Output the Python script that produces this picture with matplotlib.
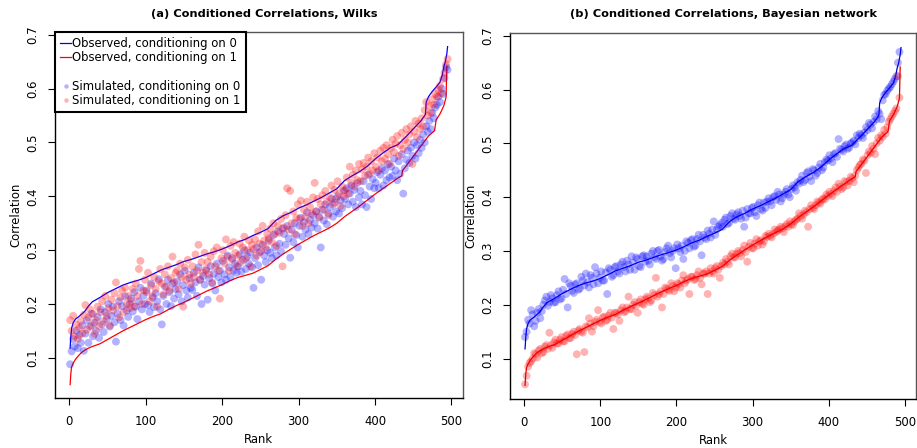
import numpy as np
import matplotlib
matplotlib.use("Agg")
import matplotlib.pyplot as plt
from matplotlib.lines import Line2D

plt.rcParams['font.family'] = ['DejaVu Sans']

# ---------------- data ----------------
# Observed sorted correlations (shared by both panels)
obs0_rank = [1, 2, 3, 5, 8, 12, 16, 20, 25, 30, 35, 40, 50, 60, 70, 80, 90, 100, 110, 120,
             130, 140, 150, 160, 170, 180, 190, 200, 210, 220, 230, 240, 250, 260, 270, 280,
             290, 300, 310, 320, 330, 340, 350, 360, 370, 380, 390, 400, 410, 420, 430, 440,
             450, 460, 466, 467, 470, 475, 480, 485, 488, 490, 492, 494, 495]
obs0_val = [0.118, 0.140, 0.155, 0.165, 0.172, 0.176, 0.181, 0.186, 0.196, 0.204, 0.208, 0.212,
            0.221, 0.228, 0.235, 0.240, 0.244, 0.249, 0.256, 0.263, 0.268, 0.273, 0.279, 0.283,
            0.288, 0.293, 0.297, 0.302, 0.308, 0.315, 0.320, 0.327, 0.333, 0.340, 0.355, 0.364,
            0.370, 0.378, 0.384, 0.391, 0.398, 0.406, 0.414, 0.429, 0.438, 0.446, 0.456, 0.469,
            0.480, 0.490, 0.496, 0.510, 0.525, 0.540, 0.552, 0.575, 0.585, 0.595, 0.603, 0.612,
            0.625, 0.640, 0.650, 0.665, 0.678]

obs1_rank = [1, 2, 3, 5, 8, 12, 16, 20, 25, 30, 40, 50, 60, 70, 80, 90, 100, 110, 120, 130,
             140, 150, 160, 170, 180, 190, 200, 210, 220, 230, 240, 250, 260, 270, 280, 290,
             300, 310, 320, 330, 340, 350, 360, 370, 380, 390, 400, 410, 420, 430, 435, 436,
             440, 450, 460, 470, 478, 480, 485, 490, 493, 494]
obs1_val = [0.050, 0.072, 0.083, 0.090, 0.097, 0.104, 0.110, 0.114, 0.118, 0.121, 0.126, 0.134,
            0.142, 0.150, 0.157, 0.164, 0.171, 0.177, 0.182, 0.190, 0.197, 0.203, 0.210, 0.217,
            0.224, 0.230, 0.236, 0.243, 0.249, 0.253, 0.257, 0.264, 0.271, 0.283, 0.293, 0.302,
            0.311, 0.319, 0.327, 0.334, 0.341, 0.350, 0.362, 0.372, 0.382, 0.393, 0.404, 0.414,
            0.424, 0.434, 0.438, 0.448, 0.455, 0.474, 0.493, 0.512, 0.522, 0.542, 0.553, 0.568,
            0.584, 0.642]

# Panel (a): simulated (Wilks), ranks 1, 3, 5, ..., 495
sim_a_rank = list(range(1, 496, 2))
sim_a0 = [0.088, 0.112, 0.135, 0.121, 0.150, 0.118, 0.142, 0.128, 0.160, 0.113,
          0.145, 0.170, 0.128, 0.158, 0.182, 0.140, 0.165, 0.150, 0.176, 0.137,
          0.190, 0.162, 0.148, 0.185, 0.172, 0.200, 0.158, 0.178, 0.195, 0.166,
          0.130, 0.182, 0.205, 0.170, 0.196, 0.160, 0.214, 0.188, 0.176, 0.200,
          0.210, 0.186, 0.222, 0.195, 0.172, 0.205, 0.230, 0.190, 0.215, 0.200,
          0.225, 0.198, 0.185, 0.238, 0.212, 0.194, 0.220, 0.205, 0.246, 0.190,
          0.162, 0.215, 0.232, 0.200, 0.245, 0.222, 0.196, 0.238, 0.210, 0.228,
          0.242, 0.218, 0.255, 0.205, 0.235, 0.262, 0.225, 0.212, 0.248, 0.230,
          0.226, 0.258, 0.240, 0.215, 0.268, 0.245, 0.200, 0.252, 0.236, 0.262,
          0.208, 0.248, 0.270, 0.238, 0.256, 0.225, 0.275, 0.250, 0.262, 0.240,
          0.280, 0.255, 0.245, 0.290, 0.268, 0.250, 0.285, 0.262, 0.275, 0.258,
          0.270, 0.292, 0.260, 0.282, 0.300, 0.265, 0.288, 0.275, 0.296, 0.268,
          0.230, 0.285, 0.305, 0.272, 0.296, 0.245, 0.310, 0.290, 0.278, 0.300,
          0.318, 0.295, 0.285, 0.328, 0.305, 0.290, 0.335, 0.312, 0.298, 0.340,
          0.330, 0.310, 0.345, 0.322, 0.286, 0.338, 0.315, 0.350, 0.328, 0.305,
          0.345, 0.360, 0.325, 0.352, 0.338, 0.370, 0.330, 0.356, 0.342, 0.365,
          0.350, 0.372, 0.340, 0.362, 0.305, 0.375, 0.355, 0.385, 0.348, 0.368,
          0.380, 0.395, 0.362, 0.388, 0.372, 0.400, 0.368, 0.392, 0.378, 0.410,
          0.395, 0.415, 0.385, 0.405, 0.420, 0.390, 0.412, 0.380, 0.425, 0.398,
          0.410, 0.385, 0.428, 0.402, 0.380, 0.440, 0.418, 0.395, 0.432, 0.415,
          0.425, 0.445, 0.415, 0.440, 0.452, 0.420, 0.448, 0.430, 0.460, 0.435,
          0.455, 0.438, 0.470, 0.448, 0.430, 0.465, 0.442, 0.478, 0.405, 0.452,
          0.468, 0.485, 0.462, 0.490, 0.475, 0.500, 0.470, 0.495, 0.480, 0.505,
          0.490, 0.515, 0.500, 0.530, 0.520, 0.540, 0.525, 0.555, 0.545, 0.565,
          0.570, 0.585, 0.575, 0.600, 0.590, 0.620, 0.640, 0.635]
sim_a1 = [0.170, 0.150, 0.178, 0.140, 0.162, 0.135, 0.155, 0.168, 0.145, 0.180,
          0.198, 0.152, 0.175, 0.190, 0.160, 0.182, 0.145, 0.170, 0.195, 0.158,
          0.185, 0.205, 0.168, 0.215, 0.178, 0.192, 0.160, 0.208, 0.188, 0.220,
          0.240, 0.196, 0.175, 0.212, 0.225, 0.185, 0.230, 0.200, 0.215, 0.192,
          0.205, 0.228, 0.195, 0.238, 0.215, 0.265, 0.280, 0.200, 0.225, 0.245,
          0.222, 0.258, 0.205, 0.235, 0.215, 0.250, 0.228, 0.195, 0.242, 0.265,
          0.238, 0.218, 0.255, 0.232, 0.270, 0.225, 0.248, 0.288, 0.240, 0.258,
          0.262, 0.228, 0.275, 0.250, 0.195, 0.268, 0.245, 0.282, 0.255, 0.238,
          0.270, 0.250, 0.292, 0.262, 0.310, 0.245, 0.278, 0.258, 0.295, 0.265,
          0.278, 0.255, 0.288, 0.240, 0.298, 0.270, 0.305, 0.262, 0.210, 0.285,
          0.300, 0.275, 0.320, 0.288, 0.262, 0.308, 0.282, 0.315, 0.295, 0.270,
          0.290, 0.312, 0.278, 0.305, 0.325, 0.285, 0.300, 0.318, 0.270, 0.310,
          0.302, 0.320, 0.290, 0.335, 0.312, 0.298, 0.345, 0.318, 0.305, 0.330,
          0.322, 0.340, 0.315, 0.350, 0.330, 0.308, 0.345, 0.332, 0.358, 0.270,
          0.342, 0.365, 0.415, 0.338, 0.410, 0.350, 0.372, 0.330, 0.360, 0.385,
          0.358, 0.392, 0.345, 0.375, 0.362, 0.390, 0.350, 0.380, 0.368, 0.398,
          0.425, 0.372, 0.395, 0.360, 0.385, 0.402, 0.375, 0.410, 0.390, 0.365,
          0.398, 0.420, 0.385, 0.412, 0.395, 0.428, 0.405, 0.382, 0.418, 0.400,
          0.412, 0.435, 0.405, 0.455, 0.425, 0.440, 0.418, 0.448, 0.430, 0.460,
          0.428, 0.450, 0.462, 0.438, 0.455, 0.472, 0.442, 0.465, 0.448, 0.480,
          0.455, 0.472, 0.448, 0.485, 0.465, 0.490, 0.470, 0.495, 0.478, 0.460,
          0.490, 0.505, 0.482, 0.498, 0.512, 0.475, 0.495, 0.518, 0.488, 0.505,
          0.525, 0.500, 0.515, 0.530, 0.460, 0.520, 0.540, 0.510, 0.535, 0.525,
          0.545, 0.530, 0.560, 0.575, 0.550, 0.568, 0.555, 0.580, 0.570, 0.590,
          0.585, 0.598, 0.605, 0.592, 0.618, 0.630, 0.645, 0.655]

# Panel (b): simulated (Bayesian network)
# first set at ranks 1, 5, 9, ..., 493
sim_b_rank = list(range(1, 494, 4))
sim_b0 = [0.140, 0.172, 0.190, 0.160, 0.185, 0.175, 0.200, 0.215, 0.205, 0.212,
          0.205, 0.225, 0.212, 0.248, 0.195, 0.235, 0.222, 0.240, 0.230, 0.245,
          0.258, 0.232, 0.250, 0.270, 0.240, 0.262, 0.245, 0.220, 0.265, 0.255,
          0.272, 0.258, 0.280, 0.262, 0.275, 0.290, 0.265, 0.285, 0.270, 0.292,
          0.290, 0.275, 0.300, 0.285, 0.302, 0.282, 0.298, 0.310, 0.288, 0.305,
          0.312, 0.298, 0.285, 0.318, 0.305, 0.322, 0.310, 0.330, 0.292, 0.325,
          0.338, 0.325, 0.355, 0.340, 0.348, 0.345, 0.362, 0.352, 0.370, 0.358,
          0.372, 0.360, 0.345, 0.378, 0.370, 0.382, 0.365, 0.390, 0.375, 0.380,
          0.398, 0.385, 0.402, 0.410, 0.392, 0.405, 0.415, 0.400, 0.422, 0.412,
          0.425, 0.440, 0.432, 0.448, 0.430, 0.450, 0.445, 0.462, 0.455, 0.470,
          0.478, 0.465, 0.482, 0.508, 0.488, 0.495, 0.490, 0.500, 0.505, 0.515,
          0.518, 0.510, 0.530, 0.538, 0.528, 0.550, 0.560, 0.545, 0.590, 0.598,
          0.605, 0.615, 0.625, 0.670]
sim_b1 = [0.052, 0.085, 0.095, 0.110, 0.102, 0.118, 0.112, 0.125, 0.148, 0.120,
          0.135, 0.128, 0.140, 0.132, 0.145, 0.138, 0.150, 0.108, 0.155, 0.148,
          0.160, 0.175, 0.150, 0.168, 0.190, 0.165, 0.178, 0.172, 0.185, 0.155,
          0.185, 0.170, 0.195, 0.188, 0.215, 0.192, 0.205, 0.185, 0.210, 0.200,
          0.215, 0.205, 0.222, 0.250, 0.220, 0.195, 0.232, 0.228, 0.240, 0.225,
          0.240, 0.232, 0.255, 0.245, 0.220, 0.252, 0.248, 0.262, 0.238, 0.258,
          0.220, 0.268, 0.258, 0.272, 0.250, 0.278, 0.285, 0.275, 0.295, 0.288,
          0.300, 0.290, 0.310, 0.280, 0.315, 0.305, 0.322, 0.318, 0.312, 0.328,
          0.332, 0.325, 0.340, 0.338, 0.345, 0.335, 0.350, 0.355, 0.348, 0.358,
          0.370, 0.360, 0.375, 0.345, 0.385, 0.378, 0.392, 0.388, 0.398, 0.405,
          0.410, 0.402, 0.418, 0.425, 0.415, 0.430, 0.422, 0.438, 0.428, 0.450,
          0.460, 0.470, 0.445, 0.485, 0.495, 0.480, 0.510, 0.515, 0.525, 0.530,
          0.545, 0.555, 0.565, 0.585]
# second set at ranks 3, 7, 11, ..., 491
sim_b_rank2 = list(range(3, 492, 4))
sim_b0_2 = [0.150, 0.165, 0.182, 0.170, 0.192, 0.188, 0.208, 0.198, 0.218, 0.204,
            0.218, 0.210, 0.228, 0.220, 0.240, 0.226, 0.238, 0.228, 0.252, 0.236,
            0.242, 0.255, 0.238, 0.258, 0.250, 0.245, 0.260, 0.268, 0.252, 0.270,
            0.262, 0.275, 0.270, 0.282, 0.265, 0.278, 0.288, 0.272, 0.290, 0.280,
            0.282, 0.295, 0.288, 0.300, 0.290, 0.285, 0.305, 0.296, 0.300, 0.268,
            0.305, 0.310, 0.300, 0.315, 0.320, 0.308, 0.322, 0.318, 0.330, 0.322,
            0.332, 0.340, 0.330, 0.345, 0.352, 0.358, 0.350, 0.365, 0.360, 0.368,
            0.365, 0.375, 0.362, 0.370, 0.380, 0.372, 0.385, 0.378, 0.390, 0.392,
            0.392, 0.400, 0.395, 0.405, 0.398, 0.410, 0.405, 0.415, 0.418, 0.428,
            0.432, 0.428, 0.445, 0.438, 0.452, 0.440, 0.455, 0.450, 0.465, 0.468,
            0.472, 0.480, 0.475, 0.490, 0.485, 0.498, 0.492, 0.502, 0.498, 0.510,
            0.515, 0.520, 0.525, 0.535, 0.540, 0.545, 0.555, 0.580, 0.592, 0.602,
            0.610, 0.620, 0.650]
sim_b1_2 = [0.068, 0.092, 0.100, 0.108, 0.115, 0.110, 0.122, 0.118, 0.125, 0.130,
            0.128, 0.135, 0.132, 0.142, 0.138, 0.146, 0.144, 0.152, 0.150, 0.112,
            0.158, 0.165, 0.160, 0.172, 0.168, 0.176, 0.170, 0.180, 0.176, 0.185,
            0.182, 0.190, 0.186, 0.195, 0.192, 0.200, 0.198, 0.205, 0.202, 0.210,
            0.212, 0.208, 0.218, 0.215, 0.225, 0.220, 0.230, 0.226, 0.235, 0.232,
            0.238, 0.245, 0.240, 0.248, 0.252, 0.246, 0.255, 0.250, 0.258, 0.262,
            0.258, 0.262, 0.268, 0.265, 0.272, 0.275, 0.280, 0.290, 0.288, 0.295,
            0.296, 0.302, 0.298, 0.308, 0.305, 0.314, 0.310, 0.320, 0.318, 0.326,
            0.328, 0.332, 0.335, 0.340, 0.342, 0.346, 0.345, 0.350, 0.355, 0.360,
            0.365, 0.368, 0.372, 0.378, 0.380, 0.385, 0.390, 0.395, 0.396, 0.402,
            0.406, 0.412, 0.410, 0.420, 0.418, 0.428, 0.430, 0.435, 0.440, 0.455,
            0.462, 0.468, 0.478, 0.482, 0.490, 0.500, 0.505, 0.512, 0.518, 0.540,
            0.550, 0.560, 0.625]

x_ticks = [0, 100, 200, 300, 400, 500]
y_ticks = [0.1, 0.2, 0.3, 0.4, 0.5, 0.6, 0.7]
titles = ["(a) Conditioned Correlations, Wilks",
          "(b) Conditioned Correlations, Bayesian network"]
legend_labels = ["Observed, conditioning on 0", "Observed, conditioning on 1",
                 "Simulated, conditioning on 0", "Simulated, conditioning on 1"]

# ---------------- figure ----------------
W, H = 917, 448
fig = plt.figure(figsize=(W / 100, H / 100), dpi=100)

def px_axes(l, r, t, b):
    return fig.add_axes([l / W, (H - b) / H, (r - l) / W, (b - t) / H])

ax_a = px_axes(55, 462.7, 32, 398.3)
ax_b = px_axes(510, 916.0, 33, 399.0)

FS = 8.4
PT_ALPHA = 0.3
MS = 32

def style(ax, title, title_x):
    ax.set_xlim(-18.76, 514.76)
    ax.set_ylim(0.0248, 0.7052)
    ax.set_xticks(x_ticks)
    ax.set_xticklabels([str(t) for t in x_ticks])
    ax.set_yticks(y_ticks)
    ax.set_yticklabels([f"{t:.1f}" for t in y_ticks])
    ax.tick_params(axis='both', direction='out', length=5, width=0.8,
                   labelsize=FS, colors='black')
    ax.tick_params(axis='x', pad=7)
    ax.tick_params(axis='y', pad=6)
    for lab in ax.get_yticklabels():
        lab.set_rotation(90)
        lab.set_va('center')
    for s in ['left', 'bottom']:
        ax.spines[s].set_color('black')
        ax.spines[s].set_linewidth(1.0)
    for s in ['top', 'right']:
        ax.spines[s].set_color('#555555')
        ax.spines[s].set_linewidth(1.0)
    ax.set_xlabel("Rank", fontsize=FS)
    ax.xaxis.label.set_va('center')
    ax.xaxis.set_label_coords(0.5, -0.113)
    ax.set_ylabel("Correlation", fontsize=FS)
    ax.yaxis.label.set_va('center')
    ax.yaxis.set_label_coords(-0.096, 0.5)
    fig.text(title_x / W, 1 - 14 / H, title, fontsize=8.2, fontweight='bold',
             ha='center', va='center')

# Panel (a)
ax_a.plot(obs0_rank, obs0_val, color='#0000ff', lw=0.9, zorder=2)
ax_a.plot(obs1_rank, obs1_val, color='#ff0000', lw=0.9, zorder=2)
ax_a.scatter(sim_a_rank, sim_a0, s=MS, color='#0000ff', alpha=PT_ALPHA,
             edgecolors='none', zorder=3)
ax_a.scatter(sim_a_rank, sim_a1, s=MS, color='#ff0000', alpha=PT_ALPHA,
             edgecolors='none', zorder=3)
style(ax_a, titles[0], 264)

handles = [Line2D([], [], color='#0000ff', lw=0.9),
           Line2D([], [], color='#ff0000', lw=0.9),
           Line2D([], [], color='none'),
           Line2D([], [], ls='none', marker='o', ms=3.2, mec='none',
                  mfc='#0000ff', alpha=PT_ALPHA),
           Line2D([], [], ls='none', marker='o', ms=3.2, mec='none',
                  mfc='#ff0000', alpha=PT_ALPHA)]
labels = [legend_labels[0], legend_labels[1], "", legend_labels[2], legend_labels[3]]
leg = ax_a.legend(handles, labels, loc='upper left', bbox_to_anchor=(0, 1),
                  borderaxespad=0, fontsize=FS, frameon=True, fancybox=False,
                  handlelength=0.9, handletextpad=0.15, labelspacing=0.1,
                  borderpad=0.45, edgecolor='black', framealpha=1)
leg.get_frame().set_linewidth(1.5)
leg.set_zorder(5)

# Panel (b)
ax_b.plot(obs0_rank, obs0_val, color='#0000dd', lw=0.9, zorder=2)
ax_b.plot(obs1_rank, obs1_val, color='#dd0000', lw=0.9, zorder=2)
ax_b.scatter(sim_b_rank + sim_b_rank2, sim_b0 + sim_b0_2, s=MS, color='#0000ff',
             alpha=PT_ALPHA, edgecolors='none', zorder=3)
ax_b.scatter(sim_b_rank + sim_b_rank2, sim_b1 + sim_b1_2, s=MS, color='#ff0000',
             alpha=PT_ALPHA, edgecolors='none', zorder=3)
style(ax_b, titles[1], 723)

fig.savefig("out.png", dpi=100)
